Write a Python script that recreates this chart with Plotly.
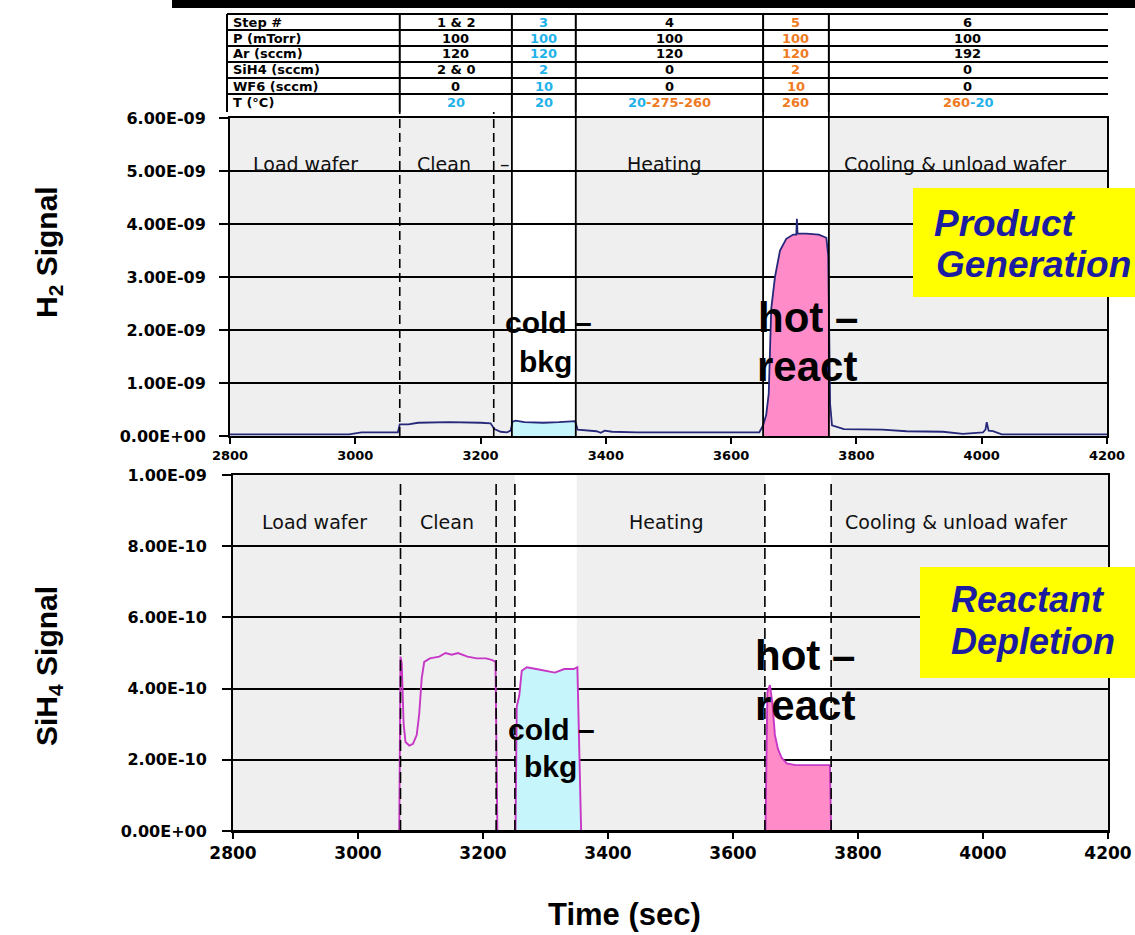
import plotly.graph_objects as go

W, H = 1135, 935

# ---------------- data ----------------
time_h2 = [
    2800, 2900, 2990, 3010, 3040, 3068, 3071, 3085, 3100, 3150,
    3200, 3216, 3222, 3232, 3242, 3248, 3251, 3256, 3270, 3300,
    3325, 3345, 3351, 3355, 3370, 3385, 3392, 3398, 3410, 3450,
    3550, 3645, 3651, 3656, 3660, 3664, 3670, 3678, 3688, 3699,
    3704, 3705, 3706, 3720, 3740, 3752, 3755, 3758, 3761, 3780,
    3841, 3880, 3938, 3970, 4002, 4006, 4008, 4011, 4018, 4032,
    4100, 4200]
h2_signal_e9 = [
    0.03, 0.03, 0.03, 0.07, 0.07, 0.07, 0.22, 0.22, 0.25, 0.26,
    0.25, 0.24, 0.13, 0.08, 0.07, 0.10, 0.27, 0.29, 0.26, 0.25,
    0.26, 0.28, 0.28, 0.12, 0.11, 0.09, 0.06, 0.10, 0.08, 0.07,
    0.07, 0.07, 0.20, 0.40, 0.80, 2.40, 3.00, 3.50, 3.72, 3.80,
    3.80, 4.10, 3.82, 3.82, 3.80, 3.74, 3.40, 0.60, 0.20, 0.13,
    0.12, 0.09, 0.08, 0.04, 0.07, 0.12, 0.26, 0.10, 0.09, 0.03,
    0.03, 0.03]

time_sih4 = [
    2800, 3066, 3068, 3070, 3073, 3076, 3082, 3088, 3094, 3098,
    3102, 3106, 3115, 3130, 3140, 3150, 3160, 3175, 3190, 3205,
    3215, 3220, 3223, 3252, 3254, 3258, 3262, 3270, 3285, 3300,
    3315, 3330, 3345, 3351, 3357, 3652, 3655, 3659, 3663, 3667,
    3672, 3678, 3686, 3700, 3730, 3755, 3757, 4200]
sih4_signal_e10 = [
    0.0, 0.0, 4.9, 4.7, 3.0, 2.5, 2.4, 2.45, 2.7, 3.3,
    4.3, 4.75, 4.85, 4.9, 5.0, 4.95, 5.0, 4.9, 4.85, 4.85,
    4.8, 4.75, 0.0, 0.0, 3.5, 3.8, 4.5, 4.6, 4.55, 4.5,
    4.45, 4.55, 4.55, 4.6, 0.0, 0.0, 3.9, 4.1, 3.6, 2.7,
    2.3, 2.05, 1.9, 1.85, 1.85, 1.85, 0.0, 0.0]

h2_signal = [v * 1e-9 for v in h2_signal_e9]
sih4_signal = [v * 1e-10 for v in sih4_signal_e10]

x_ticks = [2800, 3000, 3200, 3400, 3600, 3800, 4000, 4200]
h2_ticks = [0, 1e-9, 2e-9, 3e-9, 4e-9, 5e-9, 6e-9]
sih4_ticks = [0, 2e-10, 4e-10, 6e-10, 8e-10, 1e-9]

# phase boundaries (s)
top_solid_bounds = [3250, 3352, 3651, 3756]
top_dashed_bounds = [3071, 3221]
bottom_dashed_bounds = [3068, 3221, 3251, 3651, 3757]
top_windows = [(3250, 3352), (3651, 3756)]
bottom_windows = [(3251, 3350), (3651, 3757)]
cold_window_h2 = (3250, 3352)
hot_window_h2 = (3651, 3758)
cold_window_sih4 = (3252, 3357)
hot_window_sih4 = (3652, 3757)

phase_labels = ["Load wafer", "Clean", "Heating", "Cooling & unload wafer"]

# process table
table_row_labels = ["Step #", "P (mTorr)", "Ar (sccm)", "SiH4 (sccm)", "WF6 (sccm)", "T (°C)"]
table_steps = ["1 & 2", "3", "4", "5", "6"]
table_pressure = ["100", "100", "100", "100", "100"]
table_ar = ["120", "120", "120", "120", "192"]
table_sih4 = ["2 & 0", "2", "0", "2", "0"]
table_wf6 = ["0", "10", "0", "10", "0"]
table_temp = ["20", "20", "20-275-260", "260", "260-20"]
table_col_edges = [3071, 3250, 3352, 3651, 3756, 4200]

# ---------------- styles ----------------
CYAN_TXT = "#1fb2ea"
ORANGE_TXT = "#ee7a22"
H2_COLOR = "#26287a"
SIH4_COLOR = "#c637c6"
PINK = "#ff8cc8"
CYAN_FILL = "#c6f6fc"
BLUE_TXT = "#1c1ca0"
BG = "#efefef"

fig = go.Figure()


def subset(t, v, lo, hi):
    xs, ys = [], []
    for a, b in zip(t, v):
        if lo <= a <= hi:
            xs.append(a)
            ys.append(b)
    return xs, ys


# fills (top)
for (lo, hi), col in [(cold_window_h2, CYAN_FILL), (hot_window_h2, PINK)]:
    xs, ys = subset(time_h2, h2_signal, lo, hi)
    fig.add_trace(go.Scatter(x=xs, y=ys, mode="lines", fill="tozeroy", fillcolor=col,
                             line=dict(width=0, color=col), xaxis="x", yaxis="y", hoverinfo="skip"))
fig.add_trace(go.Scatter(x=time_h2, y=h2_signal, mode="lines", line=dict(color=H2_COLOR, width=1.8),
                         xaxis="x", yaxis="y", name="H2"))

# fills (bottom)
for (lo, hi), col in [(cold_window_sih4, CYAN_FILL), (hot_window_sih4, PINK)]:
    xs, ys = subset(time_sih4, sih4_signal, lo, hi)
    fig.add_trace(go.Scatter(x=xs, y=ys, mode="lines", fill="tozeroy", fillcolor=col,
                             line=dict(width=0, color=col), xaxis="x2", yaxis="y2", hoverinfo="skip"))
fig.add_trace(go.Scatter(x=time_sih4, y=sih4_signal, mode="lines", line=dict(color=SIH4_COLOR, width=1.9),
                         xaxis="x2", yaxis="y2", name="SiH4"))

# ---------------- helpers ----------------
def px(xp):
    return xp / W


def py(yp):
    return 1 - yp / H


TOP = dict(l=230, r=1107, t=118, b=436)
BOT = dict(l=233, r=1108, t=475, b=831)

shapes = []
annotations = []


def ann(text, xp, yp, size, family="Liberation Sans", bold=False, italic=False,
        color="black", xanchor="center", yanchor="middle", angle=0, xref="paper", xval=None,
        xshift=0, tight=False):
    d = dict(
        text=text, x=(xval if xval is not None else px(xp)), y=py(yp), xref=xref, yref="paper",
        showarrow=False, xanchor=xanchor, yanchor=yanchor, textangle=angle, xshift=xshift,
        font=dict(family=family, size=size, color=color,
                  weight="bold" if bold else "normal",
                  style="italic" if italic else "normal"))
    if tight:
        d.update(borderpad=0, borderwidth=0)
    annotations.append(d)


# white windows in plots
for lo, hi in top_windows:
    shapes.append(dict(type="rect", xref="x", yref="y domain", x0=lo, x1=hi, y0=0, y1=1,
                       fillcolor="white", line=dict(width=0), layer="below"))
for lo, hi in bottom_windows:
    shapes.append(dict(type="rect", xref="x2", yref="y2 domain", x0=lo, x1=hi, y0=0, y1=1,
                       fillcolor="white", line=dict(width=0), layer="below"))

# phase divider lines
for b in top_solid_bounds:
    shapes.append(dict(type="line", xref="x", yref="paper", x0=b, x1=b, y0=py(TOP["b"]), y1=py(112),
                       line=dict(color="black", width=1.8), layer="above"))
for b in top_dashed_bounds:
    shapes.append(dict(type="line", xref="x", yref="paper", x0=b, x1=b, y0=py(TOP["b"]), y1=py(112),
                       line=dict(color="black", width=1.6, dash="9px,5px"), layer="above"))
for b in bottom_dashed_bounds:
    shapes.append(dict(type="line", xref="x2", yref="paper", x0=b, x1=b, y0=py(BOT["b"]), y1=py(482),
                       line=dict(color="black", width=1.6, dash="11px,5px"), layer="above"))

# bottom axis baseline of lower panel drawn over the zero-level trace
shapes.append(dict(type="line", xref="x2 domain", yref="y2", x0=0, x1=1, y0=0, y1=0,
                   line=dict(color="black", width=2.2), layer="above"))

# ---- process table ----
shapes.append(dict(type="rect", xref="paper", yref="paper", x0=px(172), x1=px(1135), y0=py(8), y1=py(0),
                   fillcolor="black", line=dict(width=0), layer="above"))
row_lines = [14, 30, 46, 62, 78, 94]
for yl in row_lines:
    shapes.append(dict(type="line", xref="paper", yref="paper", x0=px(227), x1=px(1108), y0=py(yl), y1=py(yl),
                       line=dict(color="black", width=2), layer="above"))
shapes.append(dict(type="line", xref="paper", yref="paper", x0=px(227), x1=px(227), y0=py(112), y1=py(14),
                   line=dict(color="black", width=2), layer="above"))
for e in table_col_edges[:-1]:
    shapes.append(dict(type="line", xref="x", yref="paper", x0=e, x1=e, y0=py(112), y1=py(14),
                       line=dict(color="black", width=2), layer="above"))

row_centers = [22, 38, 54, 70, 86, 102]
TSIZE = 13
TFONT = dict(family="DejaVu Sans", size=TSIZE, bold=True)
for lbl, yc in zip(table_row_labels, row_centers):
    ann(lbl, 231, yc, xanchor="left", **TFONT)

col_colors = ["black", CYAN_TXT, "black", ORANGE_TXT, "black"]
col_centers = [(a + b) / 2 for a, b in zip(table_col_edges[:-1], table_col_edges[1:])]
rows = [table_steps, table_pressure, table_ar, table_sih4, table_wf6]
for r, yc in zip(rows, row_centers[:5]):
    for val, cx, colr in zip(r, col_centers, col_colors):
        ann(val, 0, yc, color=colr, xref="x", xval=cx, **TFONT)


def seg_width(s):
    # DejaVu Sans Bold advance widths (em)
    return sum((0.415 if ch == "-" else 0.696) * TSIZE for ch in s)


def temp_segments(s):
    parts = s.split("-")
    segs = []
    for i, p in enumerate(parts):
        c = CYAN_TXT if float(p) < 100 else ORANGE_TXT
        txt = ("-" if i > 0 else "") + p
        if segs and segs[-1][1] == c:
            segs[-1] = (segs[-1][0] + txt, c)
        else:
            segs.append((txt, c))
    return segs


for val, cx in zip(table_temp, col_centers):
    segs = temp_segments(val)
    total = sum(seg_width(t) for t, _ in segs)
    start = -total / 2
    for t, c in segs:
        ann(t, 0, row_centers[5], color=c, xref="x", xval=cx, xanchor="left",
            xshift=start, tight=True, **TFONT)
        start += seg_width(t)

# ---- phase labels ----
PH = dict(family="DejaVu Sans", size=19, color="#111111")
for lbl, xc in zip(phase_labels, [305, 444, 664, 955]):
    ann(lbl, xc, 164, **PH)
ann("–", 505, 164, **PH)
for lbl, xc in zip(phase_labels, [314, 447, 666, 956]):
    ann(lbl, xc, 522, **PH)

# ---- big labels ----
BIG = dict(family="Liberation Sans", bold=True)
ann("cold –", 548, 333 - 10.5, 30, **BIG)
ann("bkg", 545, 372 - 10.5, 30, **BIG)
ann("hot –", 808, 332 - 14.7, 42, **BIG)
ann("react", 807, 381 - 14.7, 42, **BIG)
ann("cold –", 551, 740 - 10.5, 30, **BIG)
ann("bkg", 550, 777 - 10.5, 30, **BIG)
ann("hot –", 805, 670 - 14.7, 42, **BIG)
ann("react", 805, 720 - 14.7, 42, **BIG)

# ---- yellow call-out boxes ----
shapes.append(dict(type="rect", xref="paper", yref="paper", x0=px(913), x1=px(1135), y0=py(297), y1=py(188),
                   fillcolor="#ffff00", line=dict(width=0), layer="above"))
shapes.append(dict(type="rect", xref="paper", yref="paper", x0=px(920), x1=px(1135), y0=py(678), y1=py(567),
                   fillcolor="#ffff00", line=dict(width=0), layer="above"))
CALL = dict(family="Liberation Sans", bold=True, italic=True, color=BLUE_TXT, xanchor="left")
ann("Product", 932, 237 - 13, 37, **CALL)
ann("Generation", 934, 277 - 13, 37, **CALL)
ann("Reactant", 949, 612 - 12.6, 36, **CALL)
ann("Depletion", 949, 654 - 12.6, 36, **CALL)

# ---- axis titles ----
ann("H<sub>2</sub> Signal", 48, 252, 30, bold=True, angle=-90)
ann("SiH<sub>4</sub> Signal", 48, 666, 30, bold=True, angle=-90)
ann("Time (sec)", 624, 914, 31, bold=True)


def fmt(v):
    return f"{v:.2E}"


common_x = dict(range=[2800, 4200], tickvals=x_ticks, ticktext=[str(v) for v in x_ticks],
                ticks="outside", ticklen=6, tickwidth=1.5, tickcolor="black",
                showline=True, linecolor="black", linewidth=2, mirror=True, automargin=False,
                showgrid=False, zeroline=False, fixedrange=True)
common_y = dict(ticks="outside", ticklen=9, tickwidth=1.5, tickcolor="black",
                showline=True, linecolor="black", linewidth=2, mirror=True, automargin=False,
                showgrid=True, gridcolor="black", gridwidth=1.5, zeroline=False, fixedrange=True)

fig.update_layout(
    width=W, height=H, margin=dict(l=0, r=0, t=0, b=0, pad=0, autoexpand=False),
    paper_bgcolor="white", plot_bgcolor=BG, showlegend=False,
    xaxis=dict(domain=[px(TOP["l"]), px(TOP["r"])], anchor="y",
               tickfont=dict(family="DejaVu Sans", size=13, color="black", weight="bold"), **common_x),
    yaxis=dict(domain=[py(TOP["b"]), py(TOP["t"])], anchor="x", range=[0, 6e-9],
               tickvals=h2_ticks, ticktext=[fmt(v) for v in h2_ticks], ticklabelstandoff=10,
               tickfont=dict(family="DejaVu Sans", size=16, color="black", weight="bold"), **common_y),
    xaxis2=dict(domain=[px(BOT["l"]), px(BOT["r"])], anchor="y2",
                tickfont=dict(family="DejaVu Sans", size=17, color="black", weight="bold"), **common_x),
    yaxis2=dict(domain=[py(BOT["b"]), py(BOT["t"])], anchor="x2", range=[0, 1e-9],
                tickvals=sih4_ticks, ticktext=[fmt(v) for v in sih4_ticks], ticklabelstandoff=12,
                tickfont=dict(family="DejaVu Sans", size=16, color="black", weight="bold"), **common_y),
    shapes=shapes, annotations=annotations,
)

fig.write_html("out.html")
